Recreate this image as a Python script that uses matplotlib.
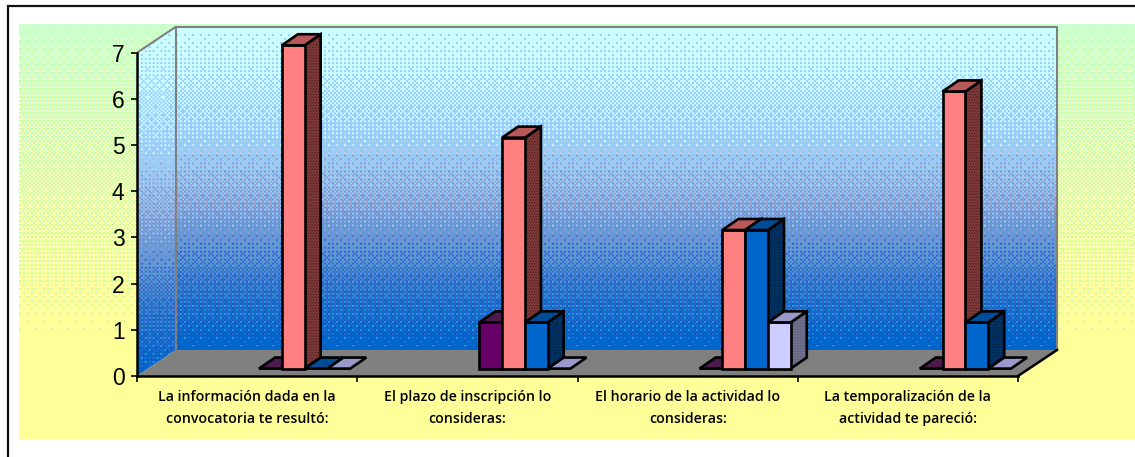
import numpy as np
import matplotlib
matplotlib.use("Agg")
import matplotlib.pyplot as plt
from matplotlib.patches import Polygon

categories = ["La información dada en la\nconvocatoria te resultó:",
              "El plazo de inscripción lo\nconsideras:",
              "El horario de la actividad lo\nconsideras:",
              "La temporalización de la\nactividad te pareció:"]
series_a = [0, 1, 0, 0]
series_b = [7, 5, 3, 6]
series_c = [0, 1, 3, 1]
series_d = [0, 0, 1, 0]
y_ticks = [0, 1, 2, 3, 4, 5, 6, 7]

W, H = 1135, 457
plt.rcParams["hatch.linewidth"] = 0.6
# front, top, side, side dots of each series
styles = [("#660066", "#4d1a4d", "#330033", "#660066"),
          ("#ff8080", "#b85858", "#803838", "#4a2020"),
          ("#0066cc", "#004c99", "#003366", "#001a33"),
          ("#ccccff", "#9999cc", "#666680", "#8080a0")]
wall_stops = [(0, "#ccffff"), (0.3, "#aaddff"), (0.55, "#88aadd"), (0.8, "#3377cc"), (1, "#0066cc")]

bayer = np.array([[0, 32, 8, 40, 2, 34, 10, 42],
                  [48, 16, 56, 24, 50, 18, 58, 26],
                  [12, 44, 4, 36, 14, 46, 6, 38],
                  [60, 28, 52, 20, 62, 30, 54, 22],
                  [3, 35, 11, 43, 1, 33, 9, 41],
                  [51, 19, 59, 27, 49, 17, 57, 25],
                  [15, 47, 7, 39, 13, 45, 5, 37],
                  [63, 31, 55, 23, 61, 29, 53, 21]]) / 64.0


def dither_gradient(w, h, stops):
    # vertical gradient dithered to the web palette, like the old gif
    pos = [s[0] for s in stops]
    t = np.linspace(0, 1, h)
    img = np.zeros((h, w, 3))
    for c in range(3):
        col = np.interp(t, pos, [int(s[1][1 + 2 * c:3 + 2 * c], 16) for s in stops])
        img[:, :, c] = col[:, None]
    yy, xx = np.mgrid[0:h, 0:w]
    thr = bayer[(yy // 2) % 8, (xx // 2) % 8]
    img = np.floor(img / 51.0 + thr[:, :, None]) * 51.0
    return np.clip(img, 0, 255) / 255.0


fig = plt.figure(figsize=(W / 100, H / 100), dpi=100, facecolor="white")

# page frame and chart area, in pixels
bg = fig.add_axes([0, 0, 1, 1])
bg.set_xlim(0, W)
bg.set_ylim(H, 0)
bg.axis("off")
bg.imshow(dither_gradient(W - 19, 415, [(0, "#ccffcc"), (0.75, "#ffff99"), (1, "#ffff99")]),
          extent=(19, W, 439, 24), aspect="auto", interpolation="bilinear")
bg.set_xlim(0, W)
bg.set_ylim(H, 0)
bg.plot([7.5, 7.5, W], [H, 6, 6], color="#111111", lw=1.6, solid_joinstyle="miter")

ax = fig.add_axes([137 / W, 1 - 376 / H, 881 / W, (376 - 52.7) / H])
ax.patch.set_visible(False)
ax.set_xlim(0, 4)
ax.set_ylim(0, 7)

# depth of the box and of the bars, in axis units
box_dx, box_dy = 0.177, 0.563
bar_dx, bar_dy = 0.073, 0.24
bar_w = 0.1035
group_shift = 0.261
base = 0.16

ax.imshow(dither_gradient(881, 350 - 27, wall_stops), extent=(box_dx, 4 + box_dx, box_dy, 7 + box_dy),
          aspect="auto", interpolation="bilinear", clip_on=False, zorder=1)

left = ax.imshow(dither_gradient(40, 349, wall_stops), extent=(0, box_dx, 0, 7 + box_dy), aspect="auto",
                 interpolation="bilinear", zorder=1.5)
left_poly = Polygon([(0, 0), (box_dx, box_dy), (box_dx, 7 + box_dy), (0, 7)],
                    transform=ax.transData, fc="none", ec="none", clip_on=False)
ax.add_patch(left_poly)
left.set_clip_box(fig.bbox)
left.set_clip_path(left_poly)
ax.set_xlim(0, 4)
ax.set_ylim(0, 7)

floor = Polygon([(0, 0), (box_dx, box_dy), (4 + box_dx, box_dy), (4, 0)],
                fc="#808080", ec="none", zorder=2, clip_on=False)
ax.add_patch(floor)
ax.plot([0, box_dx, box_dx], [7, 7 + box_dy, box_dy], color="#808080", lw=1.5, zorder=2, clip_on=False)
ax.plot([box_dx, 4 + box_dx, 4 + box_dx], [7 + box_dy, 7 + box_dy, box_dy], color="#808080", lw=1.5,
        zorder=2, clip_on=False)
ax.plot([4, 4 + box_dx], [0, box_dy], color="black", lw=1.8, zorder=2.5, clip_on=False)


def bar_3d(x, v, st, z):
    y0, y1 = base, base + v
    x1 = x + bar_w
    kw = dict(ec="black", lw=1.9, joinstyle="miter", zorder=z, clip_on=False)
    if v > 0:
        side = [(x1, y0), (x1 + bar_dx, y0 + bar_dy), (x1 + bar_dx, y1 + bar_dy), (x1, y1)]
        ax.add_patch(Polygon(side, fc=st[2], ec=st[3], lw=0, hatch="......", zorder=z, clip_on=False))
        ax.add_patch(Polygon(side, fc="none", **kw))
        ax.add_patch(Polygon([(x, y0), (x1, y0), (x1, y1), (x, y1)], fc=st[0], **kw))
    ax.add_patch(Polygon([(x, y1), (x1, y1), (x1 + bar_dx, y1 + bar_dy), (x + bar_dx, y1 + bar_dy)],
                         fc=st[1], **kw))


z = 3
for i in range(len(categories)):
    for j, vals in enumerate([series_a, series_b, series_c, series_d]):
        x = i + 0.5 + group_shift + (j - 2) * bar_w
        bar_3d(x, vals[i], styles[j], z)
        z += 0.1

for s in ["top", "right"]:
    ax.spines[s].set_visible(False)
ax.spines["left"].set_linewidth(1.8)
ax.spines["bottom"].set_linewidth(1.8)
ax.spines["left"].set_zorder(20)
ax.spines["bottom"].set_zorder(20)
ax.set_yticks(y_ticks)
ax.set_yticklabels([str(v) for v in y_ticks], fontsize=16.5, family="Liberation Sans")
ax.tick_params(axis="y", length=4, width=1.2, pad=5)
ax.set_xticks(range(5))
ax.set_xticklabels([])
ax.tick_params(axis="x", which="major", length=4, width=1.2)
ax.set_xticks([i + 0.5 for i in range(4)], minor=True)
ax.set_xticklabels(categories, minor=True, fontsize=10.2, family="Open Sans", fontweight="semibold",
                   linespacing=1.7)
ax.tick_params(axis="x", which="minor", length=0, pad=10)

fig.savefig("out.png", dpi=100)
